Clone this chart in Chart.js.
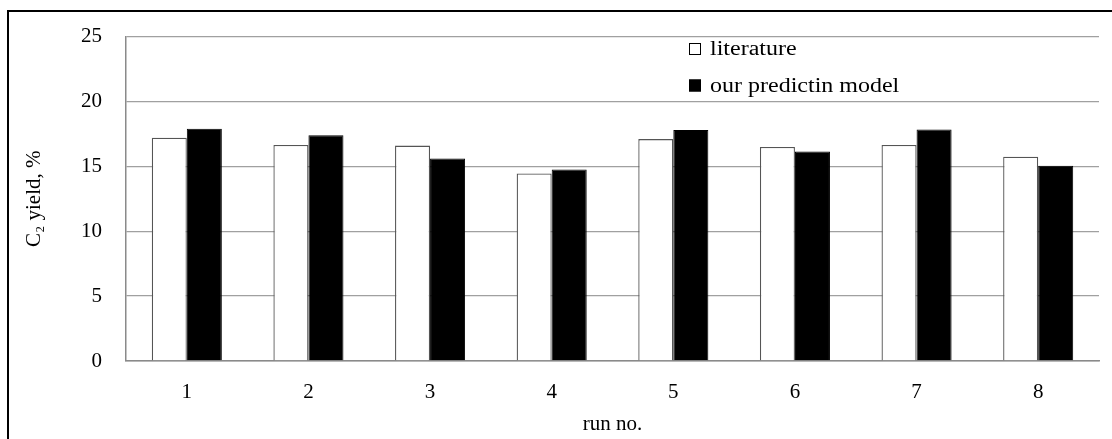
<!DOCTYPE html>
<html>
<head>
<meta charset="utf-8">
<title>C2 yield per run</title>
<script src="https://cdn.jsdelivr.net/npm/chart.js@4.4.1/dist/chart.umd.min.js"></script>
<style>
    html, body { margin: 0; padding: 0; background: #fff; overflow: hidden; }
    #frame {
        position: absolute; left: 7px; top: 10px;
        width: 1300px; height: 600px;
        border: 2px solid #000;
    }
    #chart { position: absolute; left: 0; top: 0; }
</style>
</head>
<body>
<div id="frame"></div>
<canvas id="chart" width="1112" height="439"></canvas>
<script>
var runs = ['1', '2', '3', '4', '5', '6', '7', '8'];
var literature = [17.2, 16.65, 16.6, 14.45, 17.1, 16.5, 16.65, 15.75];
var predicted = [17.9, 17.4, 15.6, 14.75, 17.8, 16.15, 17.85, 15.05];
var yTicks = [0, 5, 10, 15, 20, 25];

var serif = '"Liberation Serif", "Times New Roman", serif';

// small legend drawn inside the plot, top right
var boxLegend = {
    id: 'boxLegend',
    afterDraw: function(chart) {
        var ctx = chart.ctx;
        var x = 689, y = 43, size = 12, step = 36.5;
        ctx.save();
        ctx.font = '20px ' + serif;
        ctx.textBaseline = 'middle';
        chart.data.datasets.forEach(function(ds, i) {
            var top = y + i * step;
            ctx.fillStyle = ds.backgroundColor;
            ctx.fillRect(x, top, size, size);
            ctx.lineWidth = 1;
            ctx.strokeStyle = '#000';
            ctx.strokeRect(x + 0.5, top + 0.5, size - 1, size - 1);
            // the original text is a bit wider than the font, stretch it
            ctx.save();
            ctx.translate(x + 21, top + size / 2 + 1);
            ctx.scale(1.2, 1);
            ctx.fillStyle = '#000';
            ctx.fillText(ds.label, 0, 0);
            ctx.restore();
        });
        ctx.restore();
    }
};

var ctx = document.getElementById('chart').getContext('2d');
var chart = new Chart(ctx, {
    type: 'bar',
    data: {
        labels: runs,
        datasets: [
            {label: 'literature', data: literature, backgroundColor: '#ffffff', borderColor: '#555555', borderWidth: 1.3},
            {label: 'our predictin model', data: predicted, backgroundColor: '#000000', borderColor: '#000000', borderWidth: 1}
        ]
    },
    options: {
        responsive: false,
        animation: false,
        layout: { padding: { left: 0, top: 32, right: 13, bottom: 0 } },
        datasets: { bar: { categoryPercentage: 0.576, barPercentage: 1.0 } },
        plugins: { legend: { display: false }, tooltip: { enabled: false } },
        scales: {
            x: {
                grid: { display: false, drawTicks: false },
                border: { display: true, color: '#8a8a8a', width: 1.5 },
                ticks: { color: '#000', padding: 19, font: { family: serif, size: 21 } },
                title: { display: true, text: 'run no.', color: '#000', padding: { top: 2, bottom: 2 }, font: { family: serif, size: 21 } },
                afterFit: function(scale) { scale.height = 78; }
            },
            y: {
                min: 0, max: 25,
                afterBuildTicks: function(scale) {
                    scale.ticks = yTicks.map(function(v) { return {value: v}; });
                },
                grid: { color: '#a0a0a0', lineWidth: 1.3, drawTicks: false },
                border: { display: true, color: '#8a8a8a', width: 1.5 },
                ticks: { color: '#000', padding: 24, font: { family: serif, size: 21 } },
                title: { display: true, text: 'C\u2082 yield, %', color: '#000', padding: { top: 22, bottom: 22 }, font: { family: serif, size: 21 } },
                afterFit: function(scale) { scale.width = 126; }
            }
        }
    },
    plugins: [boxLegend]
});
</script>
</body>
</html>
